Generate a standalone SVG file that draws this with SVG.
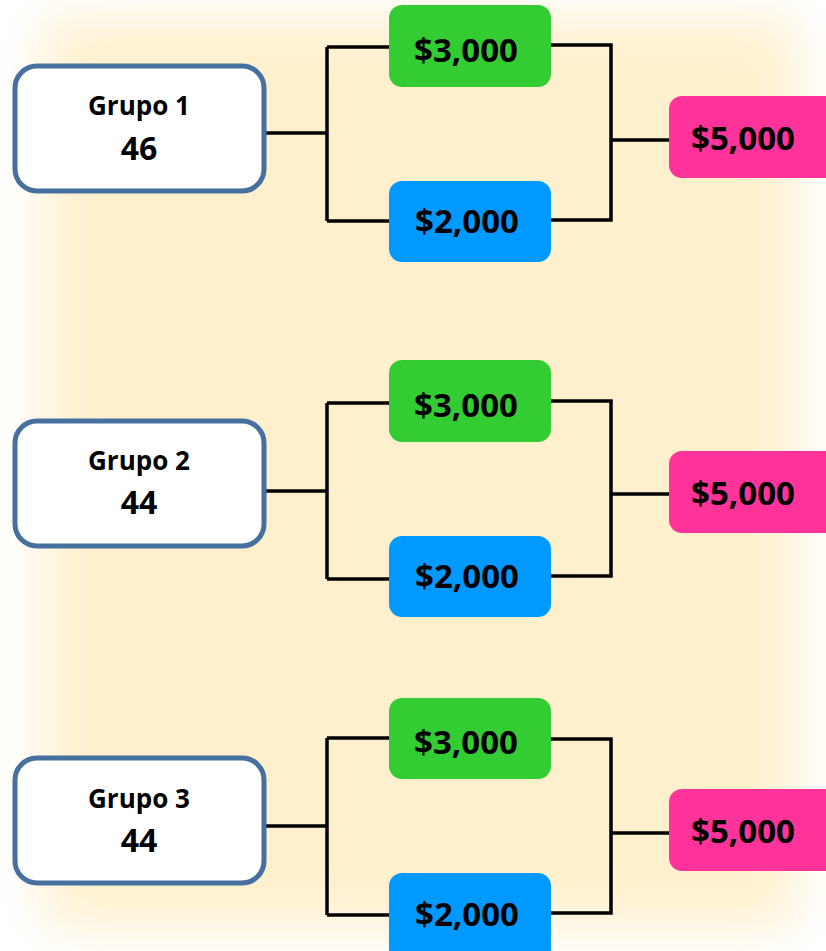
<svg xmlns="http://www.w3.org/2000/svg" width="826" height="951" viewBox="0 0 826 951">
<defs>
<filter id="soft" x="-20%" y="-20%" width="140%" height="140%"><feGaussianBlur stdDeviation="26"/></filter>
<style>
.grp{fill:#fff;stroke:#46709e;stroke-width:5}
.g{fill:#33cc33}.b{fill:#0099ff}.p{fill:#ff3399}
.t{font-family:"Open Sans","Liberation Sans",sans-serif;font-weight:bold;fill:#000;text-anchor:middle}
.lbl{font-size:26px}.num{font-size:32px}.amt{font-size:33px}
.c path{fill:none;stroke:#000;stroke-width:3.5}
</style>
</defs>
<rect width="826" height="951" fill="#fff"/>
<rect x="45" y="20" width="750" height="905" fill="#fff0cd" filter="url(#soft)"/>
<g class="c" id="connectors">
<path d="M265 133H327M327 47V221M327 47H389M327 221H389M551 45H611V220H551M611 140H669"/>
<path d="M265 491H327M327 403V579M327 403H389M327 579H389M551 401H611V576H551M611 494H669"/>
<path d="M265 826H327M327 738V915M327 738H389M327 915H389M551 739H611V913H551M611 833H669"/>
</g>
<g id="grupo1"><rect class="grp" x="15" y="66" width="249" height="125" rx="22"/><text class="t lbl" x="139" y="115">Grupo 1</text><text class="t num" x="139" y="160">46</text></g>
<g id="g1-3000"><rect class="g" x="389" y="5" width="162" height="82" rx="13"/><text class="t amt" x="466" y="62">$3,000</text></g>
<g id="g1-2000"><rect class="b" x="389" y="181" width="162" height="81" rx="13"/><text class="t amt" x="467" y="233">$2,000</text></g>
<g id="g1-5000"><rect class="p" x="669" y="96" width="175" height="82" rx="13"/><text class="t amt" x="743" y="150">$5,000</text></g>
<g id="grupo2"><rect class="grp" x="15" y="421" width="249" height="125" rx="22"/><text class="t lbl" x="139" y="470">Grupo 2</text><text class="t num" x="139" y="514">44</text></g>
<g id="g2-3000"><rect class="g" x="389" y="360" width="162" height="82" rx="13"/><text class="t amt" x="466" y="417">$3,000</text></g>
<g id="g2-2000"><rect class="b" x="389" y="536" width="162" height="81" rx="13"/><text class="t amt" x="467" y="588">$2,000</text></g>
<g id="g2-5000"><rect class="p" x="669" y="451" width="175" height="82" rx="13"/><text class="t amt" x="743" y="505">$5,000</text></g>
<g id="grupo3"><rect class="grp" x="15" y="758" width="249" height="125" rx="22"/><text class="t lbl" x="139" y="808">Grupo 3</text><text class="t num" x="139" y="852">44</text></g>
<g id="g3-3000"><rect class="g" x="389" y="698" width="162" height="81" rx="13"/><text class="t amt" x="466" y="754">$3,000</text></g>
<g id="g3-2000"><rect class="b" x="389" y="873" width="162" height="90" rx="13"/><text class="t amt" x="467" y="926">$2,000</text></g>
<g id="g3-5000"><rect class="p" x="669" y="789" width="175" height="82" rx="13"/><text class="t amt" x="743" y="843">$5,000</text></g>
</svg>
